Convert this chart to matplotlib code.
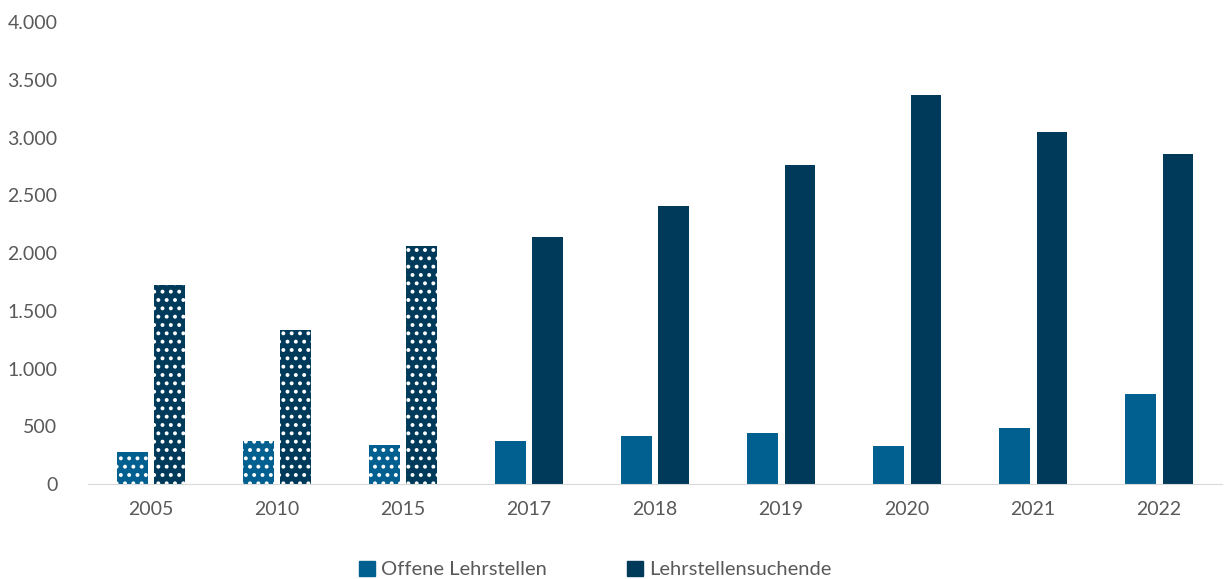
import numpy as np
import matplotlib.pyplot as plt
from matplotlib.ticker import FuncFormatter

plt.rcParams['font.family'] = ['Lato', 'DejaVu Sans']
plt.rcParams['hatch.linewidth'] = 1.6

years = ['2005', '2010', '2015', '2017', '2018', '2019', '2020', '2021', '2022']
offene = [277, 372, 338, 372, 416, 441, 329, 485, 779]
suchende = [1723, 1333, 2060, 2139, 2407, 2762, 3368, 3048, 2857]
# first three years are drawn with a dotted pattern
dotted = [True, True, True, False, False, False, False, False, False]

c_off = '#01608F'
c_such = '#003A5B'
grey = '#595959'

fig = plt.figure(figsize=(12.27, 5.79), dpi=100)
ax = fig.add_axes([0.0717, 0.164, 0.9243, 0.798])

x = np.arange(len(years))
w = 0.24
gap = 0.055

for i in range(len(years)):
    h = '..' if dotted[i] else None
    ec = 'white' if dotted[i] else 'none'
    ax.bar(x[i] - (w + gap) / 2, offene[i], w, color=c_off, hatch=h,
           edgecolor=ec, linewidth=0)
    ax.bar(x[i] + (w + gap) / 2, suchende[i], w, color=c_such, hatch=h,
           edgecolor=ec, linewidth=0)

ax.set_xlim(-0.5, len(years) - 0.5)
ax.set_ylim(0, 4000)
ax.set_yticks(np.arange(0, 4001, 500))
ax.yaxis.set_major_formatter(FuncFormatter(lambda v, p: f'{int(v):,}'.replace(',', '.')))
ax.set_xticks(x)
ax.set_xticklabels(years)

for s in ['top', 'right', 'left']:
    ax.spines[s].set_visible(False)
ax.spines['bottom'].set_color('#D9D9D9')
ax.tick_params(axis='both', length=0, labelsize=14, labelcolor=grey, pad=12)
ax.tick_params(axis='y', pad=22)

# legend
h1 = plt.Rectangle((0, 0), 1, 1, color=c_off)
h2 = plt.Rectangle((0, 0), 1, 1, color=c_such)
fig.legend([h1, h2], ['Offene Lehrstellen', 'Lehrstellensuchende'],
           loc='lower center', bbox_to_anchor=(0.485, -0.03), ncol=2, frameon=False,
           fontsize=14.5, labelcolor=grey, handlelength=0.8, handleheight=0.8,
           handletextpad=0.3, columnspacing=4.0)

fig.savefig('out.png', dpi=100)
